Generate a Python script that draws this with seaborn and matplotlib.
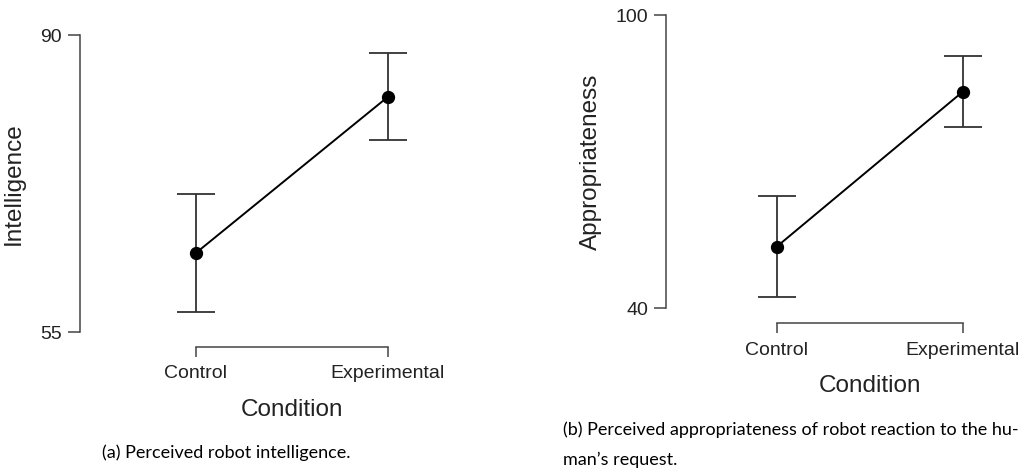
import matplotlib
matplotlib.use("Agg")
import matplotlib.pyplot as plt
import numpy as np
import seaborn as sns

# Data
conditions = ["Control", "Experimental"]
intel_mean = [64.3, 82.7]
intel_low = [57.3, 77.6]
intel_high = [71.3, 87.9]
approp_mean = [52.6, 84.3]
approp_low = [42.3, 77.0]
approp_high = [63.0, 91.7]

sns.set_style("ticks")
plt.rcParams["font.family"] = ["Liberation Sans", "DejaVu Sans"]

W, H = 1030, 468
fig = plt.figure(figsize=(W / 100, H / 100), dpi=100)
fig.patch.set_facecolor("white")

ink = "#222222"
axis_col = "#444444"


def px_rect(left, top, right, bottom):
    return [left / W, 1 - bottom / H, (right - left) / W, (bottom - top) / H]


def panel(rect, means, low, high, yticks, ylabel, xlim, xoff, xtl, ylab_x, xlab_y):
    ax = fig.add_axes(rect)
    yerr = [np.array(means) - np.array(low), np.array(high) - np.array(means)]
    ax.errorbar([0, 1], means, yerr=yerr, fmt="none", ecolor="#333333",
                elinewidth=1.3, capsize=13.5, capthick=1.3, zorder=2)
    sns.pointplot(x=conditions, y=means, color="black", errorbar=None,
                  markersize=8.5, linewidth=1.4, ax=ax, zorder=3)
    ax.set_ylim(yticks[0], yticks[-1])
    ax.set_xlim(*xlim)
    ax.set_yticks(yticks)
    ax.set_xticks([0, 1])
    ax.set_xticklabels(conditions)
    sns.despine(ax=ax)
    ax.spines["left"].set_bounds(yticks[0], yticks[-1])
    ax.spines["bottom"].set_bounds(0, 1)
    ax.spines["bottom"].set_position(("outward", xoff))
    for s in ("left", "bottom"):
        ax.spines[s].set_color(axis_col)
        ax.spines[s].set_linewidth(1.1)
    ax.tick_params(axis="y", direction="out", length=8.4, width=1.1,
                   color=axis_col, labelsize=14, pad=4.5, labelcolor=ink)
    ax.tick_params(axis="x", direction="out", length=7, width=1.1,
                   color=axis_col, labelsize=14, pad=xtl, labelcolor=ink)
    ax.set_ylabel(ylabel, fontsize=17.5, color=ink)
    ax.yaxis.set_label_coords(ylab_x, 0.5)
    ax.set_xlabel("Condition", fontsize=17.5, color=ink)
    x_mid = (0.5 - xlim[0]) / (xlim[1] - xlim[0])
    ax.xaxis.set_label_coords(x_mid, xlab_y)
    ax.set_facecolor("white")
    return ax


panel(px_rect(80, 35, 440, 332), intel_mean, intel_low, intel_high,
      [55, 90], "Intelligence", (-0.603, 1.272), 10.6, 6.5, -0.153, -0.225)
panel(px_rect(666, 15, 1020, 308.3), approp_mean, approp_low, approp_high,
      [40, 100], "Appropriateness", (-0.595, 1.308), 10.4, 7.0, -0.182, -0.228)

cap_font = ["Lato", "DejaVu Sans"]
fig.text(226.7 / W, 1 - 453 / H, "(a) Perceived robot intelligence.",
         ha="center", va="center", fontsize=13, family=cap_font, color="black")
fig.text(563 / W, 1 - 430 / H,
         "(b) Perceived appropriateness of robot reaction to the hu-",
         ha="left", va="center", fontsize=13, family=cap_font, color="black")
fig.text(563 / W, 1 - 460 / H, "man\u2019s request.",
         ha="left", va="center", fontsize=13, family=cap_font, color="black")

fig.savefig("out.png", dpi=100, facecolor="white")
